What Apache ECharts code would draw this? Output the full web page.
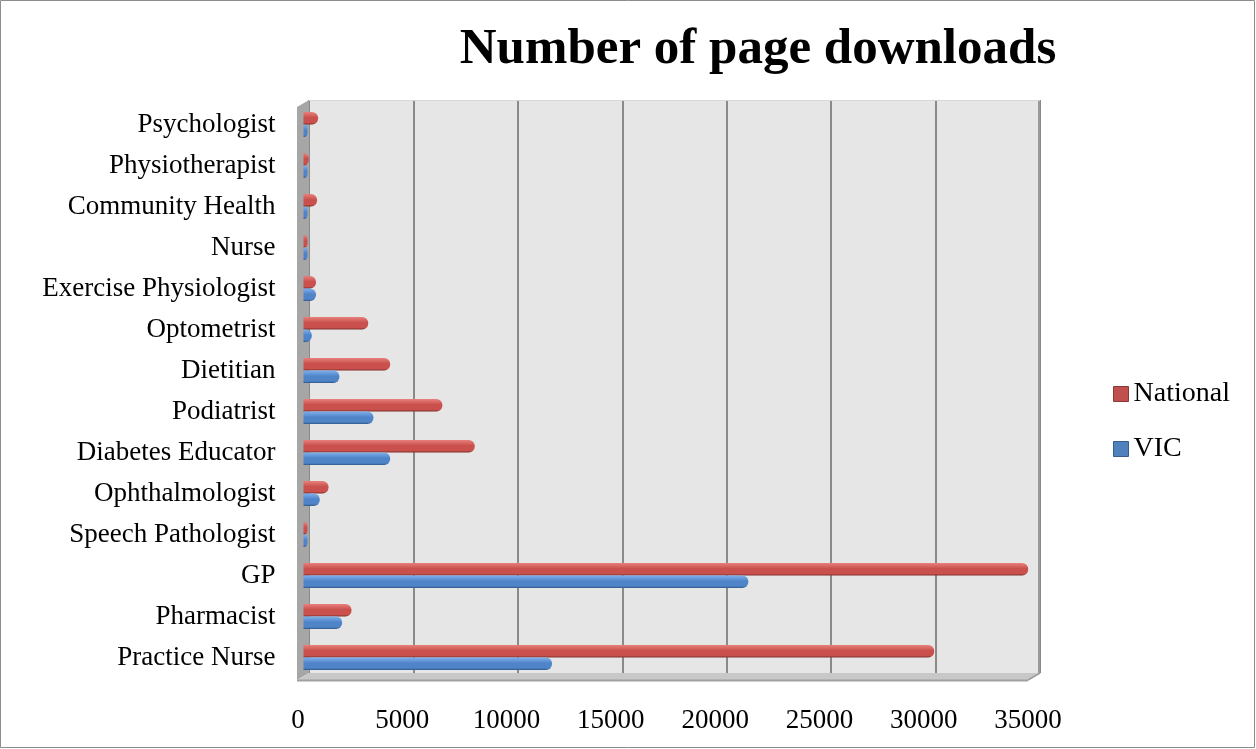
<!DOCTYPE html>
<html>
<head>
<meta charset="utf-8">
<style>
  html, body { margin: 0; padding: 0; background: #ffffff; }
  #chart { width: 1256px; height: 749px; }
</style>
<script src="https://cdn.jsdelivr.net/npm/echarts@6/dist/echarts.min.js"></script>
</head>
<body>
<div id="chart"></div>
<script>
// Professions, listed from the bottom row of the chart to the top row
const categories = [
  'Practice Nurse', 'Pharmacist', 'GP', 'Speech Pathologist', 'Ophthalmologist',
  'Diabetes Educator', 'Podiatrist', 'Dietitian', 'Optometrist',
  'Exercise Physiologist', 'Nurse', 'Community Health', 'Physiotherapist', 'Psychologist'
];
// Page downloads per profession
const nationalValues = [30200, 2300, 34700, 150, 1200, 8200, 6650, 4150, 3100, 600, 150, 650, 250, 700];
const vicValues      = [11900, 1850, 21300, 100, 780, 4150, 3350, 1720, 400, 600, 80, 100, 100, 100];
const xTicks = [0, 5000, 10000, 15000, 20000, 25000, 30000, 35000];

const FONT = '"Liberation Serif", "DejaVu Serif", serif';
const xMax = xTicks[xTicks.length - 1];
const xStep = xTicks[1] - xTicks[0];

// cylinder-like shading for the bars
function tube(light, mid, dark) {
  return new echarts.graphic.LinearGradient(0, 0, 0, 1, [
    { offset: 0, color: light },
    { offset: 0.45, color: mid },
    { offset: 0.85, color: mid },
    { offset: 1, color: dark }
  ]);
}

const chart = echarts.init(document.getElementById('chart'));

const option = {
  animation: false,
  backgroundColor: '#ffffff',
  title: {
    text: 'Number of page downloads',
    left: 753,
    top: 19,
    textAlign: 'center',
    textStyle: { fontFamily: FONT, fontWeight: 'bold', fontSize: 51, color: '#000000' }
  },
  legend: {
    orient: 'vertical',
    left: 1108,
    top: 375,
    itemWidth: 15,
    itemHeight: 15,
    itemGap: 27,
    icon: 'rect',
    textStyle: { fontFamily: FONT, fontSize: 28, color: '#000000' },
    data: [
      { name: 'National', itemStyle: { color: '#c0504d', borderColor: '#8c3836', borderWidth: 1 } },
      { name: 'VIC', itemStyle: { color: '#4f81bd', borderColor: '#385d8a', borderWidth: 1 } }
    ]
  },
  grid: [
    // back wall
    { left: 309, top: 100, width: 731, height: 573, show: true, backgroundColor: '#e6e6e6', borderWidth: 0 },
    // bars sit half way into the depth
    { left: 303.5, top: 104, width: 731, height: 574 },
    // front edge carrying the value labels
    { left: 298, top: 107, width: 730, height: 573 }
  ],
  xAxis: [
    {
      gridIndex: 0, type: 'value', min: 0, max: xMax, interval: xStep,
      axisLine: { show: false }, axisTick: { show: false }, axisLabel: { show: false },
      splitLine: { show: true, lineStyle: { color: '#8a8a8a', width: 2 } }
    },
    {
      gridIndex: 1, type: 'value', min: 0, max: xMax, interval: xStep,
      axisLine: { show: false }, axisTick: { show: false }, axisLabel: { show: false },
      splitLine: { show: false }
    },
    {
      gridIndex: 2, type: 'value', min: 0, max: xMax, interval: xStep,
      axisLine: { show: false }, axisTick: { show: false }, splitLine: { show: false },
      axisLabel: {
        show: true, margin: 27, fontFamily: FONT, fontSize: 27, color: '#000000',
        formatter: v => String(v)
      }
    }
  ],
  yAxis: [
    { gridIndex: 0, type: 'category', data: categories, show: false },
    {
      gridIndex: 1, type: 'category', data: categories,
      axisLine: { show: false }, axisTick: { show: false }, splitLine: { show: false },
      axisLabel: { margin: 28, fontFamily: FONT, fontSize: 27, color: '#000000' }
    },
    { gridIndex: 2, type: 'category', data: categories, show: false }
  ],
  series: [
    {
      name: 'National', type: 'bar', xAxisIndex: 1, yAxisIndex: 1,
      data: nationalValues,
      barWidth: 12.5, barGap: '0%', barMinHeight: 4,
      itemStyle: {
        color: tube('#e8807c', '#c9504c', '#7d2f2c'),
        borderRadius: [0, 6, 6, 0]
      }
    },
    {
      name: 'VIC', type: 'bar', xAxisIndex: 1, yAxisIndex: 1,
      data: vicValues,
      barWidth: 12.5, barGap: '0%', barMinHeight: 4,
      itemStyle: {
        color: tube('#7fb0ec', '#4f84c8', '#2f5686'),
        borderRadius: [0, 6, 6, 0]
      }
    }
  ],
  graphic: [
    // outer frame
    { type: 'rect', shape: { x: 0.5, y: 0.5, width: 1254, height: 747 }, style: { fill: 'none', stroke: '#8c8c8c', lineWidth: 1 }, z: 0 },
    // left side wall
    { type: 'polygon', shape: { points: [[297, 107], [309, 100], [309, 673], [297, 680]] }, style: { fill: '#a6a6a6' }, z: 1 },
    // floor
    { type: 'polygon', shape: { points: [[297, 680], [309, 673], [1040, 673], [1028, 680]] }, style: { fill: '#c8c8c8' }, z: 1 },
    { type: 'line', shape: { x1: 297, y1: 680.5, x2: 1028, y2: 680.5 }, style: { stroke: '#a0a0a0', lineWidth: 2 }, z: 1 },
    { type: 'line', shape: { x1: 1028, y1: 680, x2: 1040, y2: 673 }, style: { stroke: '#a0a0a0', lineWidth: 2 }, z: 1 },
    // back wall edges
    { type: 'line', shape: { x1: 1039, y1: 100, x2: 1039, y2: 673 }, style: { stroke: '#9a9a9a', lineWidth: 2 }, z: 1 },
    { type: 'line', shape: { x1: 309, y1: 100.5, x2: 1040, y2: 100.5 }, style: { stroke: '#d6d6d6', lineWidth: 1 }, z: 1 }
  ]
};

chart.setOption(option);
</script>
</body>
</html>
